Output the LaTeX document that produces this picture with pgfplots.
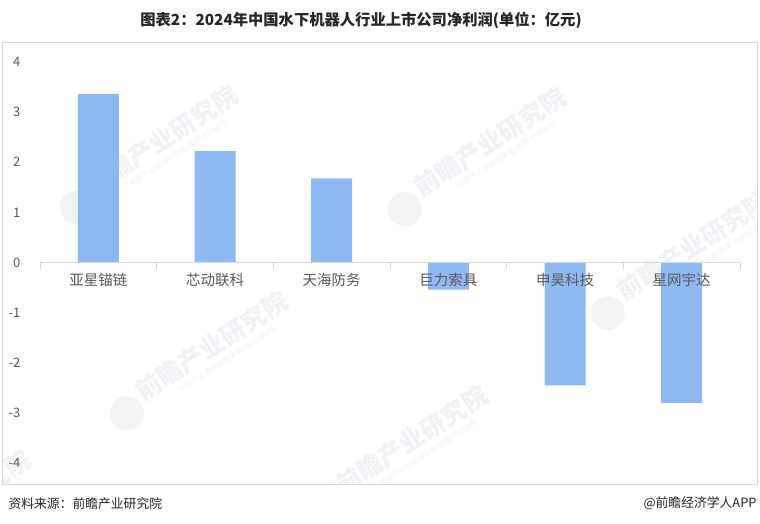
\documentclass[border=0pt]{standalone}
\usepackage{fontspec}
\setmainfont{Noto Sans CJK SC}
\usepackage{pgfplots}
\pgfplotsset{compat=1.18}

\definecolor{barblue}{HTML}{8FB9F2}
\definecolor{labelgray}{HTML}{595959}
\definecolor{framegray}{HTML}{D9D9D9}
\definecolor{wmgray}{HTML}{F1F2F5}
\definecolor{wmlogo}{HTML}{F3F4F6}

\newcommand{\watermark}[2]{%
  \begin{scope}[shift={(#1,#2)}, rotate=33, transform shape]
    \fill[wmlogo] (-108,-10) circle (17);
    \node[inner sep=0pt, text=wmgray, font=\fontsize{25}{25}\selectfont\bfseries] at (0,0) {前瞻产业研究院};
    \node[inner sep=0pt, text=wmgray, font=\fontsize{7.5}{8}\selectfont] at (6,-20) {中国产业咨询领导者(股票:839599)};
  \end{scope}}

\begin{document}
\begin{tikzpicture}[x=1pt,y=1pt]
\useasboundingbox (0,0) rectangle (760,524);
\fill[white] (0,0) rectangle (760,524);

\begin{scope}
  \clip (2,40) rectangle (757,482);
  \watermark{162}{384}
  \watermark{490}{382}
  \watermark{693}{278}
  \watermark{212}{178}
  \watermark{412}{84}
  \watermark{-45}{19}
\end{scope}

\draw[framegray] (2,40) rectangle (757,482);

\begin{axis}[
    at={(40pt,61pt)}, anchor=south west,
    scale only axis,
    width=700pt, height=401pt,
    xmin=-0.5, xmax=5.5,
    ymin=-4, ymax=4,
    axis on top,
    axis x line=middle,
    axis y line=left,
    x axis line style={-, draw=framegray, line width=0.8pt},
    y axis line style={draw=none},
    xtick={0,...,5},
    xticklabels={亚星锚链,芯动联科,天海防务,巨力索具,申昊科技,星网宇达},
    minor xtick={-0.5,0.5,...,5.5},
    major x tick style={draw=none},
    minor x tick style={draw=framegray, line width=0.8pt, yshift=-3pt},
    minor tick length=6pt,
    ytick={-4,...,4},
    major y tick style={draw=none},
    xticklabel style={text=labelgray, font=\fontsize{14.5}{16}\selectfont, yshift=-5pt},
    yticklabel style={text=labelgray, font=\fontsize{13}{15}\selectfont, anchor=east, xshift=-14pt},
    /pgf/number format/assume math mode=true,
    clip=false,
]
\addplot[ybar, bar width=41pt, fill=barblue, draw=none] coordinates {
    (0, 3.36) (1, 2.22) (2, 1.68) (3, -0.54) (4, -2.45) (5, -2.80)
};
\end{axis}

\node[font=\fontsize{15.3}{17}\selectfont\bfseries, text=black!85] at (361,503.5) {图表2：2024年中国水下机器人行业上市公司净利润(单位：亿元)};
\node[anchor=west, font=\fontsize{12.8}{14}\selectfont, text=black!85] at (5,20) {资料来源：前瞻产业研究院};
\node[anchor=east, font=\fontsize{12.8}{14}\selectfont, text=black!85] at (760,21) {@前瞻经济学人APP};
\end{tikzpicture}
\end{document}
